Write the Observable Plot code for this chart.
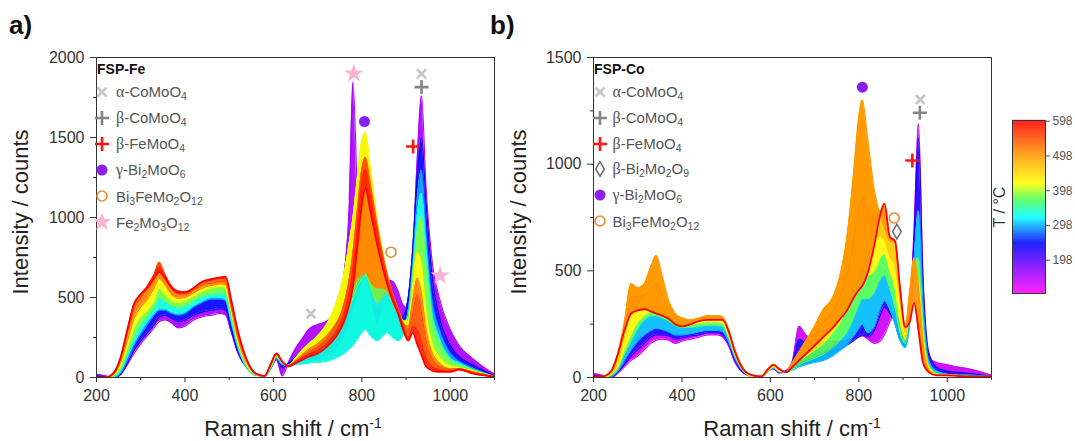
<!DOCTYPE html>
<html>
<head>
<meta charset="utf-8">
<script src="https://cdn.jsdelivr.net/npm/d3@7"></script>
<script src="https://cdn.jsdelivr.net/npm/@observablehq/plot@0.6"></script>
<style>
  html, body { margin:0; padding:0; background:#fff; }
  #wrap { position:relative; width:1075px; height:441px; overflow:hidden; font-family:"Liberation Sans", Arial, sans-serif; }
  #wrap > * { position:absolute; }
  .plab { font-weight:bold; font-size:26px; color:#111; line-height:1; }
  .ytitle { font-size:22px; color:#222; white-space:nowrap; transform:translate(-50%,-50%) rotate(-90deg); line-height:1; }
  .xtitle { font-size:22px; color:#222; white-space:nowrap; transform:translate(-50%,-50%); line-height:1; }
  .xtitle sup { font-size:14px; vertical-align:0.6em; line-height:0; }
  .ctitle { font-size:16px; color:#333; white-space:nowrap; transform:translate(-50%,-50%) rotate(-90deg); line-height:1; }
  .lg { font-size:15px; color:#555; white-space:nowrap; line-height:1; display:flex; align-items:center; height:18px; }
  .lg svg { flex:none; }
  .lg sub { font-size:10.5px; vertical-align:-0.3em; line-height:0; }
  .gr { font-family:"Liberation Serif","DejaVu Serif",serif; font-size:16px; }
  .hdr { font-size:14px; font-weight:bold; color:#111; line-height:1; transform:translateY(-50%); }
</style>
</head>
<body>
<div id="wrap"></div>
<script>
// ---------- data ----------
const wavenumber = [200,220,240,255,270,285,300,315,330,342, 355,370,385,400,420,440,460,480,492,505, 520,540,560,580,595,607,620,635,650,665, 680,700,720,740,760,772,780,790,800,808, 820,835,848,858,870,882,892,905,915,925, 935,945,958,975,1000,1020,1050,1100];

// FSP-Fe spectra (intensity / counts) at temperatures (°C)
const feTemps = [150, 240, 290, 330, 380, 425, 515, 545, 575, 598];
const fe150 = [20,10,0,20,80,150,210,260,310,350, 360,340,310,320,360,380,390,400,390,280, 150,60,20,10,60,110,10,100,180,240, 300,330,350,420,650,1100,1846,1150,800,690, 660,630,620,610,600,540,460,430,750,1350, 1760,1200,750,500,300,200,120,20];
const fe240 = [10,5,0,20,90,170,230,280,330,380, 390,370,350,360,390,410,420,430,420,300, 160,60,15,10,70,120,60,90,130,160, 180,200,230,290,380,480,560,640,680,700, 560,420,440,470,420,370,380,500,800,1250, 1500,1100,650,380,200,130,80,10];
const fe290 = [0,0,0,30,110,200,270,330,390,420, 420,400,390,400,440,470,490,490,480,340, 180,60,15,10,60,120,80,80,90,100, 105,110,130,170,250,330,400,500,580,620, 480,330,440,500,420,330,300,420,700,1100, 1294,900,500,300,150,100,60,5];
const fe330 = [0,0,5,40,130,220,290,350,400,430, 430,410,400,410,450,480,500,500,490,350, 190,60,15,10,65,125,85,75,80,85, 90,95,100,120,150,180,200,240,280,300, 260,230,260,280,250,230,260,380,650,1000, 1150,820,420,250,120,90,50,5];
const fe380 = [0,0,10,50,150,250,330,380,440,500, 480,450,440,450,480,510,520,530,520,380, 200,70,15,10,70,130,90,80,110,140, 170,200,250,320,380,440,500,570,620,640, 560,470,510,530,460,400,340,380,650,900, 1000,700,380,220,110,80,50,5];
const fe425 = [0,0,20,80,190,310,380,420,480,560, 520,480,470,480,510,540,560,570,560,410, 220,80,20,10,80,140,95,75,120,170, 210,260,330,450,650,850,1000,1250,1480,1531, 1300,980,780,640,520,430,360,350,550,780, 700,420,220,130,70,60,40,5];
const fe515 = [0,0,25,100,230,370,440,490,560,620, 580,520,495,500,530,560,575,585,580,430, 240,90,22,10,85,142,98,75,105,140, 175,210,260,330,420,500,560,620,640,660, 600,560,560,540,470,400,340,320,480,620, 520,300,160,90,55,55,35,5];
const fe545 = [0,0,30,120,280,430,500,560,640,720, 640,560,520,520,550,580,590,600,600,450, 260,100,25,10,90,145,100,75,100,130, 160,190,240,320,460,620,780,1050,1300,1375, 1200,950,760,640,520,430,350,300,400,520, 400,230,120,70,50,55,35,5];
const fe575 = [0,0,35,130,300,460,520,570,640,690, 640,570,540,535,560,600,610,620,620,470, 280,110,25,10,90,148,100,72,95,120, 145,170,210,280,400,540,680,950,1220,1300, 1130,900,720,610,500,420,330,250,320,300, 220,120,70,50,40,50,30,5];
const fe598 = [0,0,30,130,300,460,520,560,620,660, 620,560,530,530,560,600,615,625,630,480, 290,110,25,10,90,150,100,70,90,110, 130,150,190,250,350,460,570,820,1080,1180, 1030,830,680,580,480,400,310,230,280,210, 140,70,45,35,35,50,25,5];
const feCurves = [fe150, fe240, fe290, fe330, fe380, fe425, fe515, fe545, fe575, fe598];

// FSP-Co spectra
const coTemps = [130, 230, 300, 370, 425, 460, 500, 505, 598];
const co130 = [20,10,0,20,50,80,100,130,160,175, 180,175,160,170,180,190,200,200,190,150, 70,20,5,5,30,40,20,30,80,240, 200,180,170,170,170,175,180,185,190,195, 180,160,170,200,260,310,260,200,300,700, 1190,450,100,70,60,50,40,10];
const co230 = [10,5,0,25,60,100,130,160,190,200, 200,195,180,185,195,200,210,210,200,160, 80,20,5,5,30,45,25,30,70,180, 160,140,130,130,140,150,160,175,190,200, 190,220,290,330,300,260,210,170,280,650, 1120,480,120,50,30,25,20,5];
const co300 = [5,0,5,30,80,130,170,200,220,230, 225,215,200,200,205,215,220,220,215,170, 90,25,5,5,30,45,25,25,35,50, 60,70,80,100,130,150,170,200,230,250, 210,240,320,360,320,250,180,140,250,550, 780,350,80,30,15,10,10,5];
const co370 = [5,0,10,40,110,170,230,270,290,290, 280,265,245,235,235,240,245,245,240,190, 100,30,5,5,30,50,30,25,40,60, 75,90,110,140,180,210,240,290,340,370, 370,400,460,480,420,330,220,160,300,500, 560,260,60,20,10,10,5,5];
const co425 = [5,0,15,50,130,200,260,290,310,310, 300,280,260,250,250,255,260,260,255,200, 110,30,5,5,30,50,30,25,50,80, 100,130,160,210,270,330,380,440,500,520, 480,500,560,580,500,420,280,180,330,480, 450,200,50,15,10,10,5,5];
const co460 = [5,5,20,70,190,330,360,380,430,460, 420,340,290,270,265,275,280,280,275,215, 115,35,8,5,35,55,35,25,55,95, 130,180,250,300,380,460,540,660,760,800, 720,660,660,650,570,520,380,210,360,520, 430,180,40,15,10,10,5,5];
const co500 = [5,5,25,100,260,440,420,440,520,572, 480,360,300,280,270,280,290,290,285,230, 130,40,10,5,40,60,40,25,70,120, 170,240,320,370,500,640,780,1000,1220,1300, 1120,880,760,700,640,630,450,240,400,560, 420,160,35,12,10,10,5,5];
const co505 = [5,5,30,110,250,380,380,390,420,440, 390,320,280,265,265,275,285,285,280,225, 125,38,10,5,40,60,40,25,65,110, 150,200,260,310,400,480,550,680,800,850, 800,760,780,760,650,640,450,240,360,500, 360,130,30,12,10,10,5,5];
const co598 = [5,5,30,110,220,300,315,320,310,300, 290,275,250,240,250,265,270,270,270,220, 120,35,10,5,40,60,40,25,50,80, 110,150,190,230,280,310,340,380,410,430, 490,620,760,815,660,640,440,236,260,350, 220,70,25,10,10,8,5,5];
const coCurves = [co130, co230, co300, co370, co425, co460, co500, co505, co598];

// phase markers (position in data space)
const feMarkPhase = ["Fe2Mo3O12","γ-Bi2MoO6","Bi3FeMo2O12","α-CoMoO4","α-CoMoO4","β-CoMoO4","β-FeMoO4","Fe2Mo3O12"];
const feMarkX = [782, 806, 866, 685, 935, 935, 916, 977];
const feMarkY = [1900, 1600, 783, 398, 1898, 1815, 1444, 637];
const coMarkPhase = ["γ-Bi2MoO6","α-CoMoO4","β-CoMoO4","β-FeMoO4","Bi3FeMo2O12","β-Bi2Mo2O9"];
const coMarkX = [808, 939, 938, 921, 880, 886];
const coMarkY = [1361, 1303, 1241, 1017, 748, 684];

const feLegend = ["α-CoMoO4","β-CoMoO4","β-FeMoO4","γ-Bi2MoO6","Bi3FeMo2O12","Fe2Mo3O12"];
const coLegend = ["α-CoMoO4","β-CoMoO4","β-FeMoO4","β-Bi2Mo2O9","γ-Bi2MoO6","Bi3FeMo2O12"];

const xTicks = [200, 400, 600, 800, 1000];
const xMinor = [300, 500, 700, 900, 1100];
const feYTicks = [0, 500, 1000, 1500, 2000];
const feYMinor = [250, 750, 1250, 1750];
const coYTicks = [0, 500, 1000, 1500];
const coYMinor = [250, 750, 1250];
const barTicks = [198, 298, 398, 498, 598];

// ---------- styles ----------
const cmapT = [102, 175, 245, 320, 372, 418, 498, 598];
const cmapC = ["#ff00ff", "#8000ff", "#0000ff", "#00ffff", "#50ff50", "#ffff00", "#ff9900", "#ff0000"];
const cs = d3.scaleLinear().domain(cmapT).range(cmapC).interpolate(d3.interpolateRgb).clamp(true);
const colorOpts = {type: "linear", domain: [102, 598], interpolate: t => cs(102 + t * 496)};
const intFmt = d3.format("d");

const phaseStyle = {
  "α-CoMoO4":   {symbol: "times",   color: "#c6c6c6", filled: false, r: 4.2},
  "β-CoMoO4":   {symbol: "plus",    color: "#858585", filled: false, r: 4.6},
  "β-FeMoO4":   {symbol: "plus",    color: "#ff1414", filled: false, r: 4.6},
  "γ-Bi2MoO6":  {symbol: "circle",  color: "#8a1ef0", filled: true,  r: 5.5},
  "Bi3FeMo2O12":{symbol: "circle",  color: "#f0882a", filled: false, r: 5},
  "Fe2Mo3O12":  {symbol: "star",    color: "#f7b3d4", filled: true,  r: 6},
  "β-Bi2Mo2O9": {symbol: "diamond", color: "#707070", filled: false, r: 4.5}
};
const d3sym = {times: d3.symbolTimes, plus: d3.symbolPlus, circle: d3.symbolCircle, star: d3.symbolStar, diamond: d3.symbolDiamond};

function markerMarks(px, py, pp) {
  const pts = pp.map((p, i) => ({x: px[i], y: py[i], p}));
  return Object.keys(phaseStyle).map(name => {
    const s = phaseStyle[name];
    const data = pts.filter(d => d.p === name);
    if (!data.length) return null;
    return s.filled
      ? Plot.dot(data, {x: "x", y: "y", symbol: s.symbol, r: s.r, fill: s.color, stroke: "none"})
      : Plot.dot(data, {x: "x", y: "y", symbol: s.symbol, r: s.r, fill: "none", stroke: s.color, strokeWidth: s.symbol === "circle" || s.symbol === "diamond" ? 1.6 : 2.6});
  }).filter(Boolean);
}

function spectraPanel(temps, curves, yMax, yTicks, yMinor, mx, my, mp, width, mr) {
  const marks = [];
  const n = temps.length;
  for (let i = 0; i < n; i++) {
    if (i < n - 1) {
      const band = wavenumber.map((x, j) => ({x, y1: curves[i][j], y2: curves[i + 1][j], T: temps[i]}));
      marks.push(Plot.areaY(band, {x: "x", y1: "y1", y2: "y2", fill: "T", fillOpacity: 0.92, curve: "monotone-x", clip: true}));
    }
    const ser = wavenumber.map((x, j) => ({x, y: curves[i][j], T: temps[i]}));
    marks.push(Plot.line(ser, {x: "x", y: "y", stroke: "T", strokeWidth: i === n - 1 ? 1.8 : 1.1, curve: "monotone-x", clip: true}));
  }
  marks.push(...markerMarks(mx, my, mp));
  marks.push(Plot.frame({stroke: "#333", strokeWidth: 1}));
  marks.push(Plot.axisX({ticks: xTicks, tickSize: 5, tickPadding: 7, fontSize: 16, label: null, stroke: "#333", tickFormat: intFmt}));
  marks.push(Plot.axisX({ticks: xMinor, tickSize: 3, tickFormat: () => "", label: null, stroke: "#333"}));
  marks.push(Plot.axisY({ticks: yTicks, tickSize: 6, tickPadding: 6, fontSize: 16, label: null, stroke: "#333", tickFormat: intFmt}));
  marks.push(Plot.axisY({ticks: yMinor, tickSize: 3, tickFormat: () => "", label: null, stroke: "#333"}));
  return Plot.plot({
    width, height: 441,
    marginLeft: 96, marginRight: mr, marginTop: 57, marginBottom: 64,
    x: {domain: [200, 1100]},
    y: {domain: [0, yMax]},
    color: colorOpts,
    style: {fontFamily: "'Liberation Sans', Arial, sans-serif", color: "#333", background: "transparent", overflow: "visible"},
    marks
  });
}

const wrap = document.getElementById("wrap");
function place(el, left, top) { el.style.left = left + "px"; el.style.top = top + "px"; wrap.appendChild(el); return el; }
function html(cls, content, left, top) { const d = document.createElement("div"); d.className = cls; d.innerHTML = content; return place(d, left, top); }

const left = spectraPanel(feTemps, feCurves, 2000, feYTicks, feYMinor, feMarkX, feMarkY, feMarkPhase, 497, 3);
place(left, 0, 0);
const right = spectraPanel(coTemps, coCurves, 1500, coYTicks, coYMinor, coMarkX, coMarkY, coMarkPhase, 500, 6);
place(right, 497, 0);

// colour bar
const barT = d3.range(102, 600, 1);
const bar = Plot.plot({
  width: 75, height: 441,
  marginLeft: 12, marginRight: 30, marginTop: 120, marginBottom: 148,
  x: {domain: [0, 1], axis: null},
  y: {domain: [102, 600]},
  color: colorOpts,
  style: {fontFamily: "'Liberation Sans', Arial, sans-serif", color: "#555", background: "transparent", overflow: "visible"},
  marks: [
    Plot.rect(barT, {x1: d => 0, x2: d => 1, y1: d => d, y2: d => d + 1.5, fill: d => d}),
    Plot.frame({stroke: "#333"}),
    Plot.axisY({anchor: "right", ticks: barTicks, tickSize: 4, tickPadding: 3, fontSize: 12, label: null, stroke: "#555", tickFormat: intFmt})
  ]
});
place(bar, 1000, 0);

// text overlays
html("plab", "a)", 9, 12);
html("plab", "b)", 490, 12);
html("ytitle", "Intensity / counts", 21, 212);
html("ytitle", "Intensity / counts", 519, 212);
html("xtitle", "Raman shift / cm<sup>-1</sup>", 293, 429);
html("xtitle", "Raman shift / cm<sup>-1</sup>", 792, 429);
html("ctitle", "T / °C", 1000, 207);
html("hdr", "FSP-Fe", 97, 69);
html("hdr", "FSP-Co", 594, 69);

function fmt(label) {
  return label.replace(/(\d+)/g, "<sub>$1</sub>").replace(/([αβγ])/g, '<span class="gr">$1</span>');
}
function legend(items, symX, textGap, y0, dy) {
  items.forEach((name, i) => {
    const s = phaseStyle[name];
    const row = document.createElement("div");
    row.className = "lg";
    const size = Math.PI * s.r * s.r;
    const path = d3.symbol(d3sym[s.symbol], size)();
    const sw = s.symbol === "circle" || s.symbol === "diamond" ? 1.6 : 2.6;
    const paint = s.filled ? `fill="${s.color}" stroke="none"` : `fill="none" stroke="${s.color}" stroke-width="${sw}"`;
    row.innerHTML = `<svg width="16" height="16" viewBox="-8 -8 16 16" style="margin-right:${textGap}px"><path d="${path}" ${paint}/></svg><span>${fmt(name)}</span>`;
    place(row, symX - 8, y0 + i * dy - 9);
  });
}
legend(feLegend, 102, 6, 92, 26);
legend(coLegend, 600, 4.5, 92, 25.8);
</script>
</body>
</html>
